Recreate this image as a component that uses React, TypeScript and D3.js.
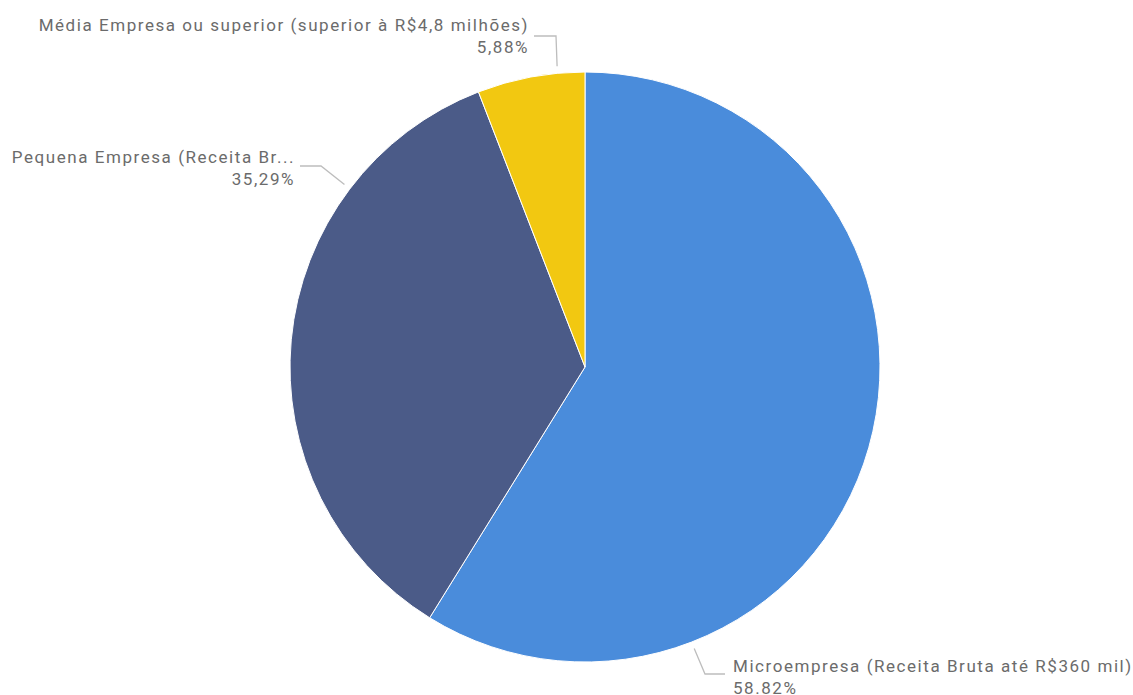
import React from "react";
import * as d3 from "d3";

const categories = [
  "Microempresa (Receita Bruta até R$360 mil)",
  "Pequena Empresa (Receita Br...",
  "Média Empresa ou superior (superior à R$4,8 milhões)",
];
const values = [58.82, 35.29, 5.88];
const valueLabels = ["58.82%", "35,29%", "5,88%"];
const colors = ["#4A8CDB", "#4B5B88", "#F2C811"];

const W = 1133;
const H = 695;
const cx = 585;
const cy = 367;
const R = 295;

// label layout: leader angle (deg clockwise from top), elbow, text anchor
const layout = [
  { angle: 158.8, elbow: [705, 674], end: [725, 674], tx: 733, ty: 672, anchor: "start" },
  { angle: 307.2, elbow: [321, 166], end: [300, 166], tx: 295, ty: 163, anchor: "end" },
  { angle: 354.7, elbow: [556, 36], end: [534, 36], tx: 529, ty: 31, anchor: "end" },
];

const fontProps = {
  fontFamily: "Roboto, sans-serif",
  fontSize: 17,
  letterSpacing: 1.55,
  fill: "#6B6B6B",
};

export default function App() {
  const pie = d3
    .pie<number>()
    .sort(null)
    .value((d) => d)
    .startAngle(0)
    .endAngle(2 * Math.PI);
  const arcs = pie(values);
  const arc = d3.arc<d3.PieArcDatum<number>>().innerRadius(0).outerRadius(R);

  return (
    <svg width={W} height={H} style={{ position: "absolute", left: 0, top: 0, background: "#fff" }}>
      <g transform={`translate(${cx},${cy})`}>
        {arcs.map((a, i) => (
          <path key={i} d={arc(a) || ""} fill={colors[i]} stroke="#fff" strokeWidth={1} />
        ))}
      </g>
      {layout.map((l, i) => {
        const t = (l.angle * Math.PI) / 180;
        const sx = cx + Math.sin(t) * (R + 7);
        const sy = cy - Math.cos(t) * (R + 7);
        return (
          <g key={i}>
            <polyline
              points={`${sx},${sy} ${l.elbow[0]},${l.elbow[1]} ${l.end[0]},${l.end[1]}`}
              fill="none"
              stroke="#BDBDBD"
              strokeWidth={1.3}
            />
            <text x={l.tx} y={l.ty} textAnchor={l.anchor as any} {...fontProps}>
              {categories[i]}
            </text>
            <text x={l.tx} y={l.ty + 21.5} textAnchor={l.anchor as any} {...fontProps}>
              {valueLabels[i]}
            </text>
          </g>
        );
      })}
    </svg>
  );
}
